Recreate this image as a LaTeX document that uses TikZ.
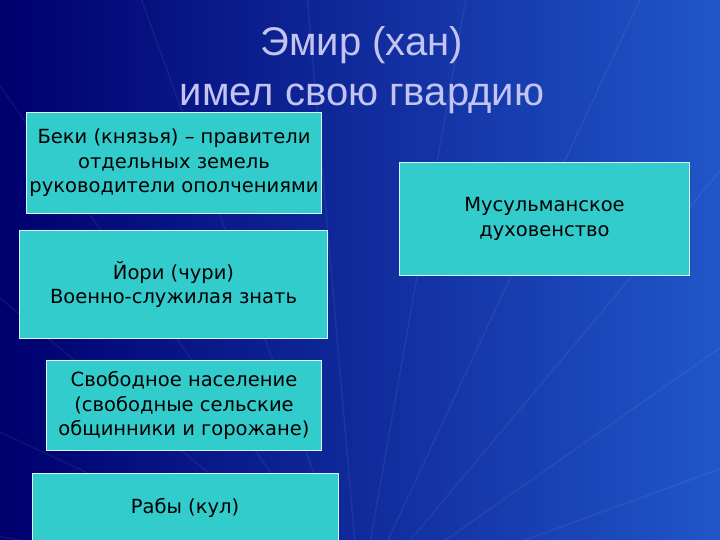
\documentclass[tikz,border=0pt]{standalone}
\usepackage{fontspec}
\setmainfont{DejaVu Sans}
\newfontfamily\titlefont{Liberation Sans}
\begin{document}
\begin{tikzpicture}[x=1pt,y=-1pt,
  box/.style={draw=white!85!cyan,line width=1pt,fill={rgb,255:red,51;green,204;blue,204},anchor=north west,inner sep=0pt},
  txt/.style={align=center,font=\fontsize{19.5}{24.5}\selectfont,text=black}]
\useasboundingbox (0,0) rectangle (720,540);
\shade[left color=blue!45!black,right color=blue!60!cyan!80!white] (0,0) rectangle (720,540);
\shade[top color=blue!40!black,bottom color=blue!40!black,opacity=0.35] (0,0) rectangle (720,540);
\foreach \a in {10,25,...,170}{\draw[white,opacity=0.06,line width=1.5pt] (360,600) -- ++(\a:-900);}
\node[font=\titlefont\fontsize{40}{50}\selectfont,text=white!80!blue!90!gray,align=center] (t) at (362,70) {Эмир (хан)\\имел свою гвардию};
\node[box,minimum width=295,minimum height=101] (b1) at (26,112) {};
\node[txt] at (b1.center) {Беки (князья) – правители\\отдельных земель\\руководители ополчениями};
\node[box,minimum width=308,minimum height=108] (b2) at (19,230) {};
\node[txt] at (b2.center) {Йори (чури)\\Военно-служилая знать};
\node[box,minimum width=275,minimum height=90] (b3) at (46,360) {};
\node[txt] at (b3.center) {Свободное население\\(свободные сельские\\общинники и горожане)};
\node[box,minimum width=306,minimum height=75] (b4) at (32,473) {};
\node[txt] at (185,508) {Рабы (кул)};
\node[box,minimum width=290,minimum height=113] (b5) at (399,162) {};
\node[txt] at (b5.center) {Мусульманское\\духовенство};
\end{tikzpicture}
\end{document}
